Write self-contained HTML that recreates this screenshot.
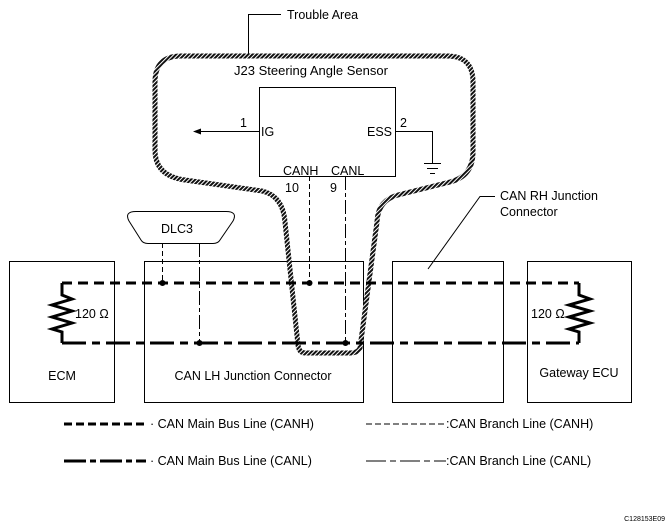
<!DOCTYPE html>
<html><head><meta charset="utf-8"><style>
html,body{margin:0;padding:0;background:#fff;}
svg{display:block;font-family:"Liberation Sans",sans-serif;}
</style></head><body>
<svg width="669" height="530" viewBox="0 0 669 530" xmlns="http://www.w3.org/2000/svg">
<defs>
<pattern id="h" width="3" height="3" patternUnits="userSpaceOnUse" patternTransform="rotate(45)">
<rect width="3" height="3" fill="#fff"/><rect width="2" height="3" fill="#111"/>
</pattern>
</defs>
<g fill="none" stroke="#000" stroke-width="1">
<rect x="9.5" y="261.5" width="105" height="141"/>
<rect x="144.5" y="261.5" width="219" height="141"/>
<rect x="392.5" y="261.5" width="111" height="141"/>
<rect x="527.5" y="261.5" width="104" height="141"/>
<rect x="259.5" y="87.5" width="136" height="89"/>
<path d="M248.5 54 V14.5 H281"/>
<path d="M198 131.5 H259"/>
<path d="M396 131.5 H432.5 V163"/>
<path d="M424 163.5 H441 M427 168.5 H438 M430 173.5 H435"/>
<path d="M428 269 L480 196.5 H495"/>
<path d="M136 211.5 H226 Q238 211.5 233 221 L220 240 Q218 243.5 213 243.5 H148 Q143 243.5 141 240 L129 221 Q124 211.5 136 211.5 Z"/>
</g>
<polygon points="193,131.5 201,128.5 201,134.5" fill="#000"/>
<path d="M285 222 Q283 196 262 191 L185 180 Q155 176 155 150 V82 Q155 56 181 56 H447 Q473 56 473 82 V152 Q473 176 450 182 L398 195 Q378 200 377 222 L360 348 Q358 353 350 353 H305 Q299 353 298 345 Z" fill="none" stroke="url(#h)" stroke-width="5"/>
<g fill="none" stroke="#000" stroke-width="1">
<path d="M162.5 243 V283" stroke-dasharray="5 3"/>
<path d="M199.5 243 V343" stroke-dasharray="14 3 4 3"/>
<path d="M309.5 176 V283" stroke-dasharray="5 3"/>
<path d="M345.5 176 V343" stroke-dasharray="14 3 4 3"/>
</g>
<g fill="none" stroke="#000" stroke-width="3">
<path d="M62 283 H579" stroke-dasharray="10 6"/>
<path d="M62 343 H579" stroke-dasharray="24 6 8 6"/>
<path d="M62 283 V295 L72 299 L52 305 L72 311 L52 317 L72 323 L52 329 L62 332 V343"/>
<path d="M579 283 V295 L590 299 L569 305 L590 311 L569 317 L590 323 L569 329 L579 332 V343"/>
</g>
<g fill="#000">
<circle cx="162.5" cy="283" r="3"/><circle cx="309.5" cy="283" r="3"/>
<circle cx="199.5" cy="343" r="3"/><circle cx="345.5" cy="343" r="3"/>
</g>
<g fill="none" stroke="#000">
<path d="M64 424 H146" stroke-width="3" stroke-dasharray="8 4"/>
<path d="M64 461 H146" stroke-width="3" stroke-dasharray="22 4 6 4"/>
<path d="M366 424 H446" stroke-width="1" stroke-dasharray="6 3"/>
<path d="M366 461 H446" stroke-width="1" stroke-dasharray="20 4 6 4"/>
</g>
<g font-size="12.5" fill="#000">
<text x="287" y="19">Trouble Area</text>
<text x="234" y="75" font-size="13">J23 Steering Angle Sensor</text>
<text x="240" y="127">1</text>
<text x="261" y="136">IG</text>
<text x="392" y="136" text-anchor="end">ESS</text>
<text x="400" y="127">2</text>
<text x="283" y="175">CANH</text>
<text x="331" y="175">CANL</text>
<text x="285" y="192">10</text>
<text x="330" y="192">9</text>
<text x="500" y="200">CAN RH Junction</text>
<text x="500" y="216">Connector</text>
<text x="177" y="233" text-anchor="middle">DLC3</text>
<text x="75" y="318">120 Ω</text>
<text x="531" y="318">120 Ω</text>
<text x="62" y="380" text-anchor="middle">ECM</text>
<text x="253" y="380" text-anchor="middle">CAN LH Junction Connector</text>
<text x="579" y="377" text-anchor="middle">Gateway ECU</text>
<text x="150" y="428">· CAN Main Bus Line (CANH)</text>
<text x="150" y="465">· CAN Main Bus Line (CANL)</text>
<text x="446" y="428">:CAN Branch Line (CANH)</text>
<text x="446" y="465">:CAN Branch Line (CANL)</text>
<text x="665" y="521" font-size="7" text-anchor="end">C128153E09</text>
</g>
</svg>
</body></html>
